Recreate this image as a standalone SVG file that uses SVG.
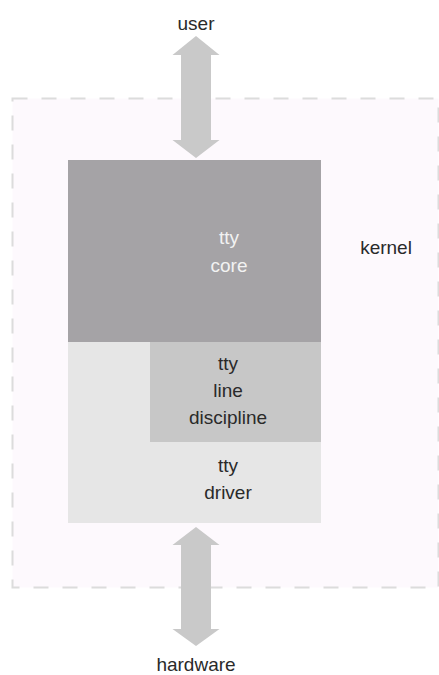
<svg xmlns="http://www.w3.org/2000/svg" width="439" height="675" viewBox="0 0 439 675">
<style>
text{font-family:"Liberation Sans",Arial,sans-serif;font-size:19px;text-anchor:middle;fill:#2a2a2a}
.w{fill:#f2f2f2}
.arrow{fill:#c9c9c9}
</style>
<rect width="439" height="675" fill="#ffffff"/>
<g id="kernel">
<rect x="12.5" y="98.5" width="426" height="489" fill="#fdf9fd" stroke="#dcdcdc" stroke-width="2" stroke-dasharray="15 14"/>
<text x="386" y="254">kernel</text>
</g>
<g id="tty-driver">
<rect x="68" y="342" width="253" height="181" fill="#e6e6e6"/>
<text x="228" y="472">tty</text>
<text x="228" y="499">driver</text>
</g>
<g id="tty-line-discipline">
<rect x="150" y="342" width="171" height="100" fill="#c7c7c7"/>
<text x="228" y="370">tty</text>
<text x="228" y="397">line</text>
<text x="228" y="424">discipline</text>
</g>
<g id="tty-core">
<rect x="68" y="160" width="253" height="182" fill="#a5a3a6"/>
<text class="w" x="229" y="244">tty</text>
<text class="w" x="229" y="272">core</text>
</g>
<g id="user"><text x="196" y="30">user</text></g>
<g id="hardware"><text x="196" y="671">hardware</text></g>
<g id="connectors">
<path class="arrow" d="M196 36 L219.5 55 L211 55 L211 140 L219.5 140 L196 158 L172.5 140 L181 140 L181 55 L172.5 55 Z"/>
<path class="arrow" d="M196 527 L219.5 545 L211 545 L211 629 L219.5 629 L196 646 L172.5 629 L181 629 L181 545 L172.5 545 Z"/>
</g>
</svg>
